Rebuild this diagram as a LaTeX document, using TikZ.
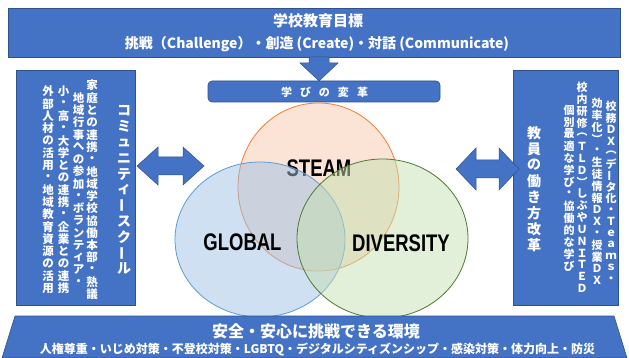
\documentclass[tikz,border=0pt]{standalone}
\usepackage{fontspec}
\usepackage{graphicx}
\usetikzlibrary{shapes.geometric,calc}
\setmainfont{Liberation Sans}
\newfontfamily\jp{Noto Sans CJK JP}
\newfontfamily\lat{Liberation Sans}
\definecolor{boxblue}{HTML}{4472C4}
\definecolor{boxedge}{HTML}{2F528F}
\definecolor{steamfill}{RGB}{251,228,213}
\definecolor{steamedge}{HTML}{ED7D31}
\definecolor{globfill}{RGB}{159,193,229}
\definecolor{globedge}{HTML}{5B9BD5}
\definecolor{divfill}{RGB}{197,223,179}
\definecolor{divedge}{HTML}{4E7A2E}
\makeatletter
\newdimen\vst@p
\def\vst@end{\vst@end@}
\newcommand\vstack[2]{\vst@p=#1\relax\vbox{\offinterlineskip\vst@#2\vst@end}}
\def\vst@#1{\ifx#1\vst@end\else\hbox to\vst@p{\hss\vbox to\vst@p{\vss\hbox{#1}\vss}\hss}\expandafter\vst@\fi}
\makeatother
\newcommand\vlong{\rotatebox[origin=c]{90}{ー}}
\begin{document}
\begin{tikzpicture}[x=1pt,y=-1pt,
  bluebox/.style={fill=boxblue, draw=boxedge, line width=0.6pt, inner sep=0pt},
  wt/.style={text=white, inner sep=0pt, font=\jp\bfseries\fontsize{#1}{#1}\selectfont},
  circ/.style={ellipse, inner sep=0pt, line width=0.8pt},
  big/.style={text=black, inner sep=0pt, font=\lat\bfseries\fontsize{24}{24}\selectfont},
  barrow/.style={fill=boxblue, draw=boxedge, line width=0.5pt}]
\useasboundingbox (0,0) rectangle (629,358);

% top banner
\node[bluebox, minimum width=612pt, minimum height=49pt] (goal) at (314.5,33) {};
\node[wt=15] (goal1) at (318,21) {学校教育目標};
\node[wt=14] (goal2) at (317,44) {挑戦（Challenge）・創造 (Create)・対話 (Communicate)};

% top arrow
\coordinate (abase) at (319,57);
\coordinate (atip) at (319,81);
\path[barrow] ($(abase)+(-10,0)$) -- ($(abase)+(-10,6)$) -- ($(atip)+(-19,-18)$) -- (atip)
  -- ($(atip)+(19,-18)$) -- ($(abase)+(10,6)$) -- ($(abase)+(10,0)$) -- cycle;

% manabi box
\node[bluebox, rounded corners=4pt, minimum width=232pt, minimum height=21pt] (manabi) at (324,91.5) {};
\node[wt=11] (manabit) at (324.5,92) {学\hspace{8pt}び\hspace{8pt}の\hspace{8pt}変\hspace{8pt}革};

% circles
\node[circ, fill=steamfill, draw=steamedge, minimum width=161pt, minimum height=168pt] (steam) at (318.5,187) {};
\node[big] (steamt) at (319,168) {\scalebox{0.77}[1]{STEAM}};
\node[circ, fill=globfill, fill opacity=0.5, draw=globedge, minimum width=170pt, minimum height=155pt] (glob) at (260,239.5) {};
\node[circ, fill=divfill, fill opacity=0.5, draw=divedge, minimum width=171pt, minimum height=159pt] (div) at (382.5,238.5) {};
\node[big] (globt) at (242.5,242) {\scalebox{0.77}[1]{GLOBAL}};
\node[big] (divt) at (401,243) {\scalebox{0.77}[1]{DIVERSITY}};

% left box
\node[bluebox, minimum width=119pt, minimum height=235pt] (lbox) at (75.5,187.5) {};
\node[wt=14] (l0) at (124,190) {\vstack{15.8pt}{コミュニティ\vlong スク\vlong ル}};
\node[wt=11.5] (l1) at (92,190) {\vstack{12.3pt}{家庭との連携・地域学校協働本部・熟議}};
\node[wt=11.5] (l2) at (78.5,190) {\vstack{12.3pt}{地域行事への参加・ボランティア・}};
\node[wt=11.5] (l3) at (63.5,190) {\vstack{12.3pt}{小・高・大学との連携・企業との連携}};
\node[wt=11.5] (l4) at (48,190) {\vstack{12.3pt}{外部人材の活用・地域教育資源の活用}};

% right box
\node[bluebox, minimum width=105pt, minimum height=235pt] (rbox) at (565.5,187.5) {};
\node[wt=11] (r1) at (611,193) {\vstack{11.5pt}{校務ＤＸ︵デ\vlong タ化・Ｔｅａｍｓ・}};
\node[wt=11] (r2) at (597,192) {\vstack{11.8pt}{効率化︶・生徒情報ＤＸ・授業ＤＸ}};
\node[wt=11] (r3) at (582,188) {\vstack{11.8pt}{校内研修︵ＴＬＤ︶しぶやＵＮＩＴＥＤ}};
\node[wt=11] (r4) at (569,188) {\vstack{12pt}{個別最適な学び・協働的な学び}};
\node[wt=14] (r0) at (534,189) {\vstack{16pt}{教員の働き方改革}};

% double arrows
\path[barrow] (137,166) -- (158,147) -- (158,157) -- (183,157) -- (183,147) -- (204,166)
  -- (183,185) -- (183,175) -- (158,175) -- (158,185) -- cycle;
\path[barrow] (456,169) -- (476,148) -- (476,160) -- (499,160) -- (499,148) -- (519,169)
  -- (499,190) -- (499,178) -- (476,178) -- (476,190) -- cycle;

% bottom banner
\path[bluebox] (15,316) -- (614,316) -- (627,358) -- (2,358) -- cycle;
\node[wt=16] (safe1) at (316,331) {安全・安心に挑戦できる環境};
\node[wt=12] (safe2) at (317.5,349) {人権尊重・いじめ対策・不登校対策・LGBTQ・デジタルシティズンシップ・感染対策・体力向上・防災};
\end{tikzpicture}
\end{document}
